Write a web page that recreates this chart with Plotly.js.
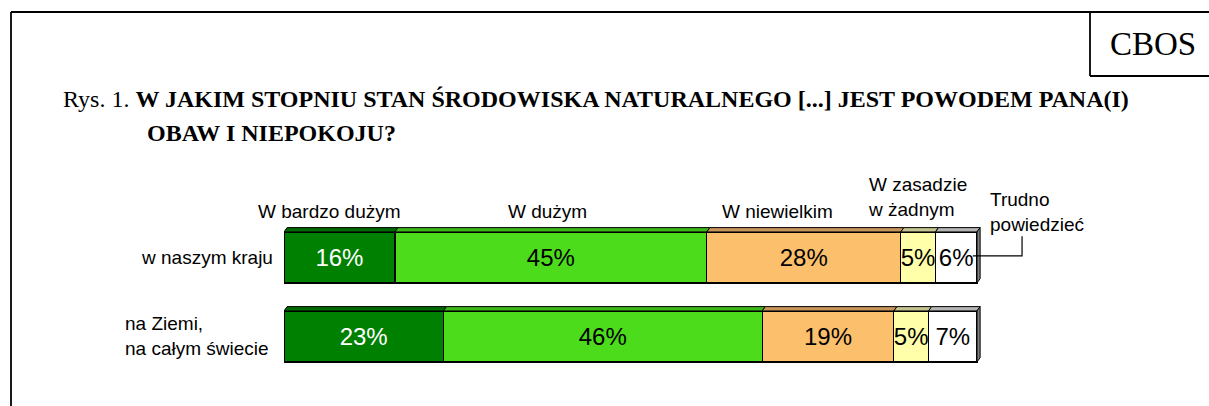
<!DOCTYPE html>
<html>
<head>
<meta charset="utf-8">
<script src="https://cdn.plot.ly/plotly-3.0.1.min.js"></script>
<style>html,body{margin:0;padding:0;background:#fff;}#chart{width:1209px;height:406px;}</style>
</head>
<body>
<div id="chart"></div>
<script>
// ---- data ----
const rowLabels = ["w naszym kraju", "na Ziemi,<br>na całym świecie"];
const seriesNames = ["W bardzo dużym", "W dużym", "W niewielkim", "W zasadzie w żadnym", "Trudno powiedzieć"];
const bardzoDuzym = [16, 23];
const duzym = [45, 46];
const niewielkim = [28, 19];
const zasadzieZadnym = [5, 5];
const trudno = [6, 7];

const series = [bardzoDuzym, duzym, niewielkim, zasadzieZadnym, trudno];
const colors = ["#008000", "#4cdc1c", "#fcc06c", "#ffffaa", "#ffffff"];
const topColors = ["#006a00", "#3cb818", "#c8965a", "#c4c490", "#b4b4b4"];
const textColors = ["#ffffff", "#000000", "#000000", "#000000", "#000000"];

const W = 1209, H = 406;
const px = x => x / W;
const py = y => 1 - y / H;
const rowIdx = [0, 1];
const barW = 0.646;
const dX = 0.45, dY = 0.055;
const pxPerUnit = 6.93;
const xMax = (W - 284) / pxPerUnit;

const traces = series.map((vals, i) => ({
  type: "bar",
  orientation: "h",
  name: seriesNames[i],
  y: rowIdx,
  x: vals,
  width: barW,
  marker: {color: colors[i], line: {color: "#000000", width: 1.3}},
  text: vals.map(v => v + "%"),
  textposition: "inside",
  insidetextanchor: "middle",
  textangle: 0,
  constraintext: "none",
  cliponaxis: false,
  textfont: {family: "Liberation Sans, Arial, sans-serif", size: 24, color: textColors[i]},
  hoverinfo: "skip"
}));

// 3D top faces and right side, computed from data
const shapes = [];
rowIdx.forEach(r => {
  let cum = 0;
  const top = r - barW / 2, bot = r + barW / 2;
  series.forEach((vals, i) => {
    const x0 = cum, x1 = cum + vals[r];
    shapes.push({type: "path", xref: "x", yref: "y",
      path: `M ${x0} ${top} L ${x0 + dX} ${top - dY} L ${x1 + dX} ${top - dY} L ${x1} ${top} Z`,
      fillcolor: topColors[i], line: {color: "#000000", width: 1}});
    cum = x1;
  });
  shapes.push({type: "path", xref: "x", yref: "y",
    path: `M ${cum} ${top} L ${cum + dX} ${top - dY} L ${cum + dX} ${bot - dY} L ${cum} ${bot} Z`,
    fillcolor: "#808080", line: {color: "#000000", width: 1}});
});
// leader line for "Trudno powiedzieć"
shapes.push({type: "path", xref: "x", yref: "y",
  path: `M 99.4 -0.02 L 106.5 -0.02 L 106.5 -0.27`, line: {color: "#000000", width: 1.2}});

// frame
shapes.push({type: "line", xref: "paper", yref: "paper", x0: px(11), x1: px(11), y0: py(12), y1: py(406), line: {color: "#000", width: 1.8}});
shapes.push({type: "line", xref: "paper", yref: "paper", x0: px(11), x1: px(1209), y0: py(12), y1: py(12), line: {color: "#000", width: 1.8}});
shapes.push({type: "line", xref: "paper", yref: "paper", x0: px(1090), x1: px(1090), y0: py(12), y1: py(76), line: {color: "#000", width: 1.8}});
shapes.push({type: "line", xref: "paper", yref: "paper", x0: px(1090), x1: px(1209), y0: py(76), y1: py(76), line: {color: "#000", width: 1.8}});

const sans = "Liberation Sans, Arial, sans-serif";
const serif = "Liberation Serif, Times New Roman, serif";
const annotations = [
  {xref: "paper", yref: "paper", x: px(1153), y: py(44), text: "CBOS", showarrow: false, xanchor: "center", yanchor: "middle", font: {family: serif, size: 33, color: "#000"}},
  {xref: "paper", yref: "paper", x: px(61), y: py(99), text: "Rys. 1. <b>W JAKIM STOPNIU STAN ŚRODOWISKA NATURALNEGO [...] JEST POWODEM PANA(I)</b>", showarrow: false, xanchor: "left", yanchor: "middle", font: {family: serif, size: 24, color: "#000"}},
  {xref: "paper", yref: "paper", x: px(145), y: py(133), text: "<b>OBAW I NIEPOKOJU?</b>", showarrow: false, xanchor: "left", yanchor: "middle", font: {family: serif, size: 24, color: "#000"}},
  // row labels
  {xref: "paper", yref: "y", x: px(275), y: 0, text: rowLabels[0], showarrow: false, xanchor: "right", yanchor: "middle", font: {family: sans, size: 19, color: "#000"}},
  {xref: "paper", yref: "y", x: px(123), y: 1, text: rowLabels[1], showarrow: false, xanchor: "left", yanchor: "middle", align: "left", font: {family: sans, size: 19, color: "#000"}},
  // series labels
  {xref: "paper", yref: "paper", x: px(329), y: py(211), text: seriesNames[0], showarrow: false, xanchor: "center", yanchor: "middle", font: {family: sans, size: 19, color: "#000"}},
  {xref: "paper", yref: "paper", x: px(547), y: py(211), text: seriesNames[1], showarrow: false, xanchor: "center", yanchor: "middle", font: {family: sans, size: 19, color: "#000"}},
  {xref: "paper", yref: "paper", x: px(777), y: py(211), text: seriesNames[2], showarrow: false, xanchor: "center", yanchor: "middle", font: {family: sans, size: 19, color: "#000"}},
  {xref: "paper", yref: "paper", x: px(866), y: py(197), text: "W zasadzie<br>w żadnym", showarrow: false, xanchor: "left", yanchor: "middle", align: "left", font: {family: sans, size: 19, color: "#000"}},
  {xref: "paper", yref: "paper", x: px(988), y: py(212), text: "Trudno<br>powiedzieć", showarrow: false, xanchor: "left", yanchor: "middle", align: "left", font: {family: sans, size: 19, color: "#000"}}
];

const layout = {
  width: W, height: H,
  margin: {l: 0, r: 0, t: 0, b: 0},
  paper_bgcolor: "#ffffff", plot_bgcolor: "rgba(0,0,0,0)",
  barmode: "stack",
  showlegend: false,
  xaxis: {domain: [px(284), 1], range: [0, xMax], visible: false, fixedrange: true},
  yaxis: {domain: [0, 1], range: [1.880, -3.259], visible: false, fixedrange: true},
  shapes: shapes,
  annotations: annotations
};

Plotly.newPlot("chart", traces, layout, {displayModeBar: false, staticPlot: true});
</script>
</body>
</html>
